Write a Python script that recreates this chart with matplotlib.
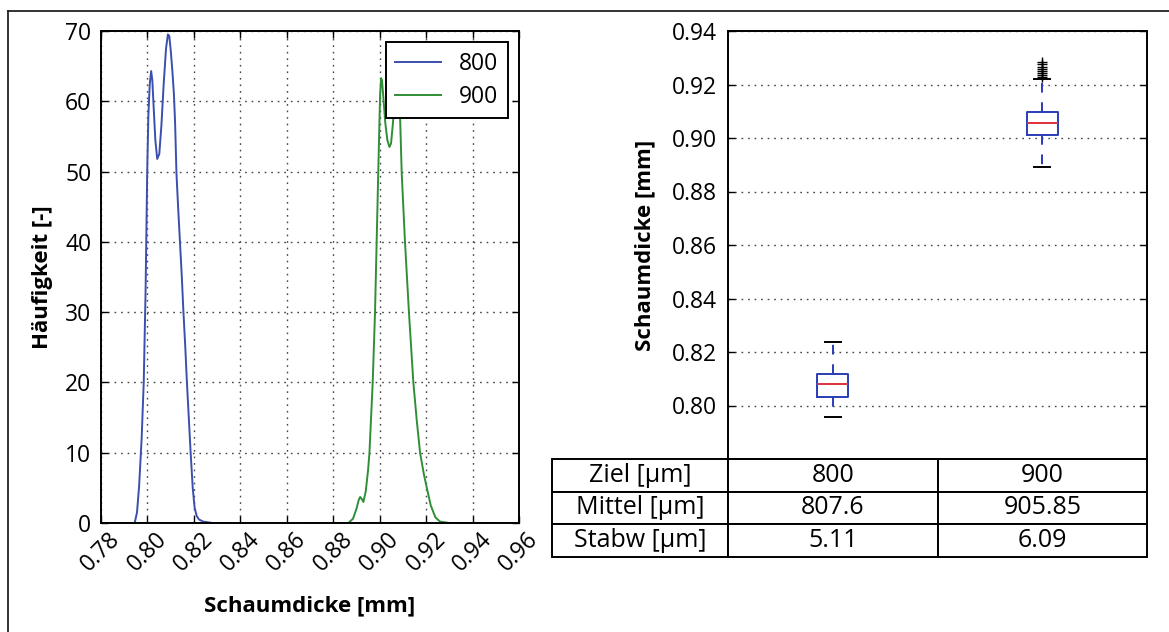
import matplotlib
matplotlib.use("Agg")
import matplotlib.pyplot as plt
from matplotlib.lines import Line2D

plt.rcParams['font.family'] = ['Open Sans', 'DejaVu Sans']

# ---- data: density curves ----
x800 = [0.7805, 0.7900, 0.7945, 0.7955, 0.7964, 0.7975, 0.7984, 0.7992, 0.7999,
        0.8004, 0.8010, 0.8016, 0.8021, 0.8027, 0.8034, 0.8042, 0.8051, 0.8060,
        0.8070, 0.8080, 0.8088, 0.8094, 0.8101, 0.8108, 0.8114, 0.8119, 0.8125,
        0.8132, 0.8140, 0.8148, 0.8155, 0.8163, 0.8170, 0.8178, 0.8186, 0.8195,
        0.8203, 0.8212, 0.8222, 0.8240, 0.8280, 0.8375]
y800 = [0.0, 0.0, 0.0, 1.5, 5.2, 12.0, 20.0, 33.0, 50.0,
        58.0, 62.5, 64.3, 63.0, 59.0, 54.5, 51.8, 52.5, 56.5,
        62.5, 67.5, 69.5, 69.3, 67.0, 64.0, 61.0, 57.0, 49.7,
        45.0, 40.0, 35.0, 30.0, 25.0, 20.0, 15.0, 10.0, 5.0,
        2.2, 1.0, 0.5, 0.2, 0.0, 0.0]

x900 = [0.8691, 0.8865, 0.8885, 0.8900, 0.8910, 0.8916, 0.8923, 0.8930, 0.8940,
        0.8950, 0.8956, 0.8963, 0.8970, 0.8980, 0.8987, 0.8994, 0.8999, 0.9002,
        0.9006, 0.9010, 0.9016, 0.9024, 0.9033, 0.9042, 0.9049, 0.9056, 0.9064,
        0.9071, 0.9078, 0.9084, 0.9088, 0.9095, 0.9109, 0.9126, 0.9145, 0.9160,
        0.9174, 0.9190, 0.9203, 0.9220, 0.9240, 0.9260, 0.9300, 0.9475]
y900 = [0.0, 0.0, 0.6, 2.0, 3.3, 3.7, 3.4, 3.0, 4.5,
        7.5, 10.0, 15.0, 20.0, 30.0, 40.0, 50.0, 57.0, 61.0,
        63.3, 63.0, 60.5, 57.0, 54.5, 53.5, 54.0, 56.5, 59.5,
        61.5, 62.0, 60.5, 57.7, 49.7, 40.0, 30.0, 20.0, 14.5,
        10.0, 7.0, 5.0, 2.5, 0.8, 0.2, 0.0, 0.0]

series_labels = ['800', '900']

# ---- data: box plot statistics ----
box_q1 = [0.8032, 0.9010]
box_med = [0.8080, 0.9057]
box_q3 = [0.8117, 0.9099]
box_whislo = [0.7958, 0.8890]
box_whishi = [0.8239, 0.9222]
box_fliers = [[], [0.9228, 0.9235, 0.9242, 0.9250, 0.9258, 0.9266, 0.9275, 0.9283]]

# ---- data: table ----
row_labels = ['Ziel [µm]', 'Mittel [µm]', 'Stabw [µm]']
col_800 = ['800', '807.6', '5.11']
col_900 = ['900', '905.85', '6.09']

x_ticks = [0.78, 0.80, 0.82, 0.84, 0.86, 0.88, 0.90, 0.92, 0.94, 0.96]
y_ticks_left = [0, 10, 20, 30, 40, 50, 60, 70]
y_ticks_right = [0.80, 0.82, 0.84, 0.86, 0.88, 0.90, 0.92, 0.94]

W, H = 1169, 632
fig = plt.figure(figsize=(W / 100, H / 100), dpi=100)

def fbox(x0, y0, x1, y1):
    return [x0 / W, 1 - y1 / H, (x1 - x0) / W, (y1 - y0) / H]

grid_kw = dict(color='#444444', linestyle=(0, (1.2, 3.5)), linewidth=1.0)
blue = '#3a4fae'
green = '#2f8f38'
TICK_FS = 16.5

# ---------------- left: density curves ----------------
ax1 = fig.add_axes(fbox(101, 31, 519, 523))
ax1.plot(x800, y800, color=blue, lw=1.4, label=series_labels[0])
ax1.plot(x900, y900, color=green, lw=1.4, label=series_labels[1])
ax1.set_xlim(0.78, 0.96)
ax1.set_ylim(0, 70)
ax1.set_xticks(x_ticks)
ax1.set_xticklabels([f'{t:.2f}' for t in x_ticks], rotation=45, ha='center')
ax1.set_yticks(y_ticks_left)
ax1.grid(True, **grid_kw)
ax1.tick_params(direction='in', top=True, right=True, length=5, width=1,
                labelsize=TICK_FS, pad=7)
ax1.tick_params(axis='x', pad=3)
for s in ax1.spines.values():
    s.set_linewidth(1.4)
ax1.set_xlabel('Schaumdicke [mm]', fontsize=16, fontweight='bold', labelpad=14)
ax1.set_ylabel('Häufigkeit [-]', fontsize=16, fontweight='bold', labelpad=9)
leg = ax1.legend(loc='upper right', fontsize=16.5, fancybox=False, framealpha=1,
                 edgecolor='black', handlelength=2.0, borderaxespad=0.5,
                 labelspacing=0.4)
leg.get_frame().set_linewidth(1.4)

# ---------------- right: box plots ----------------
ax2 = fig.add_axes(fbox(728, 31, 1147, 459))
stats = []
for i in range(2):
    stats.append(dict(med=box_med[i], q1=box_q1[i], q3=box_q3[i],
                      whislo=box_whislo[i], whishi=box_whishi[i],
                      fliers=box_fliers[i]))
ax2.bxp(stats, positions=[1, 2], widths=0.15, showfliers=True,
        boxprops=dict(color='#2a3cb4', linewidth=1.4),
        medianprops=dict(color='#e0303a', linewidth=1.4),
        whiskerprops=dict(color='#2a3cb4', linewidth=1.4, linestyle=(0, (5, 5))),
        capprops=dict(color='black', linewidth=1.4),
        flierprops=dict(marker='+', markeredgecolor='black', markersize=7,
                        linestyle='none'))
ax2.set_xlim(0.5, 2.5)
ax2.set_ylim(0.78, 0.94)
ax2.set_yticks(y_ticks_right)
ax2.set_yticklabels([f'{t:.2f}' for t in y_ticks_right])
ax2.set_xticks([])
ax2.yaxis.grid(True, **grid_kw)
ax2.tick_params(axis='y', direction='in', right=True, length=5, width=1,
                labelsize=TICK_FS, pad=8)
for s in ax2.spines.values():
    s.set_linewidth(1.4)
ax2.set_ylabel('Schaumdicke [mm]', fontsize=16, fontweight='bold', labelpad=12)

# table below the box plot
cell_text = [[row_labels[i], col_800[i], col_900[i]] for i in range(3)]
ax_h = 459 - 31
ax_w = 1147 - 728
tbl = ax2.table(cellText=cell_text, cellLoc='center',
                colWidths=[176, 210, 209],
                bbox=[(552 - 728) / ax_w, -(557 - 459) / ax_h,
                      (1147 - 552) / ax_w, (557 - 459) / ax_h])
tbl.auto_set_font_size(False)
tbl.set_fontsize(18)
for cell in tbl.get_celld().values():
    cell.set_linewidth(1.4)
    cell.set_edgecolor('black')
    cell.get_text().set_fontfamily(['Open Sans', 'DejaVu Sans'])

# figure border (top and left lines)
fig.add_artist(Line2D([8 / W, 1], [1 - 11 / H, 1 - 11 / H],
                      transform=fig.transFigure, color='#222222', lw=1.3))
fig.add_artist(Line2D([8 / W, 8 / W], [0, 1 - 11 / H],
                      transform=fig.transFigure, color='#222222', lw=1.3))

fig.savefig('out.png', dpi=100, facecolor='white')
